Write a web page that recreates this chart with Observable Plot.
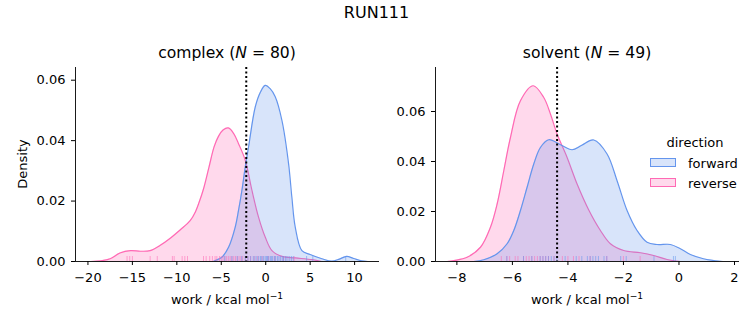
<!DOCTYPE html>
<html><head><meta charset="utf-8">
<script src="https://cdn.jsdelivr.net/npm/d3@7"></script>
<script src="https://cdn.jsdelivr.net/npm/@observablehq/plot@0.6"></script>
<style>
body{margin:0;background:#fff;}
#fig{position:relative;width:753px;height:325px;font-family:"DejaVu Sans",sans-serif;color:#000;overflow:hidden;background:#fff}
.t{position:absolute;white-space:nowrap;transform:translate(-50%,-50%);line-height:1}
.lab{position:absolute;white-space:nowrap;line-height:1;transform:translateY(-50%)}
.patch{position:absolute;width:26px;height:9px;box-sizing:border-box}
sup{font-size:70%;vertical-align:0.55em;line-height:0}
</style></head><body><div id="fig"></div>
<script>
// ---- data ----
const directions = ["forward", "reverse"];
const colors = ["#6495ED", "#FF69B4"];

// complex panel: KDE curves (work, density)
const complexForwardX = [-5.9,-5.68,-4.93,-4.18,-3.43,-3.06,-2.68,-2.3,-1.93,-1.18,-0.6,-0.06,0.5,1.07,1.82,2.57,2.94,3.32,4.07,5.0,6.32,7.45,8.3,9.1,9.9,10.8,11.5];
const complexForwardD = [0,0.0003,0.0014,0.0047,0.0114,0.0169,0.0235,0.0313,0.0379,0.0511,0.0560,0.0583,0.0572,0.0545,0.0467,0.0324,0.0213,0.0114,0.0036,0.0023,0.0009,0.0001,0.0008,0.0017,0.0010,0.0002,0];
const complexReverseX = [-19.7,-18.6,-17.5,-16.4,-15.2,-14.1,-13.0,-11.9,-10.7,-9.6,-8.5,-7.9,-7.5,-7.0,-6.4,-5.8,-5.3,-4.8,-4.2,-3.6,-3.06,-2.3,-1.55,-0.81,-0.06,0.7,1.82,3.32,5.2,6.3];
const complexReverseD = [0,0.0002,0.0009,0.0028,0.0036,0.0034,0.0036,0.0053,0.0078,0.0105,0.0135,0.0165,0.0195,0.024,0.031,0.038,0.0415,0.0435,0.0442,0.0423,0.039,0.0335,0.0235,0.0147,0.0081,0.0036,0.0017,0.0012,0.0006,0];
// complex panel: rug (individual work values)
const complexForwardRug = [-4.6,-3.8,-3.2,-2.7,-2.3,-2.0,-1.7,-1.4,-1.2,-1.0,-0.8,-0.6,-0.5,-0.3,-0.2,0.0,0.1,0.2,0.3,0.5,0.6,0.7,0.8,1.0,1.1,1.3,1.4,1.6,1.7,1.9,2.0,2.2,2.3,2.5,2.7,2.9,3.1,4.6,5.3,9.0];
const complexReverseRug = [-15.6,-15.3,-15.0,-13.0,-12.2,-10.5,-10.3,-9.4,-9.1,-8.8,-7.0,-6.7,-6.3,-6.0,-5.7,-5.5,-5.2,-5.0,-4.8,-4.6,-4.4,-4.2,-4.0,-3.8,-3.6,-3.4,-3.2,-3.0,-2.8,-2.6,-2.3,-2.0,-1.7,-1.3,-0.9,-0.4,0.3,1.0,2.0,3.2];
const complexEstimate = -2.19;

// solvent panel
const solventForwardX = [-7.4,-7.03,-6.55,-6.19,-5.95,-5.71,-5.47,-5.23,-4.99,-4.69,-4.27,-3.85,-3.5,-3.07,-2.59,-2.23,-1.87,-1.51,-1.15,-0.79,-0.31,0.05,0.41,0.88,1.49,1.7];
const solventForwardD = [0,0.0007,0.0031,0.0071,0.0124,0.0204,0.0297,0.039,0.0456,0.0487,0.0467,0.0447,0.0465,0.0486,0.043,0.0323,0.0204,0.0124,0.0077,0.0068,0.0068,0.0051,0.0028,0.0011,0.0001,0];
const solventReverseX = [-8.35,-8.1,-7.63,-7.15,-6.79,-6.55,-6.31,-6.07,-5.71,-5.25,-4.87,-4.63,-4.39,-4.03,-3.67,-3.25,-2.83,-2.47,-1.99,-1.39,-0.91,-0.43,0.05];
const solventReverseD = [0,0.0004,0.0017,0.0057,0.0137,0.023,0.0363,0.0496,0.0643,0.0703,0.0656,0.059,0.051,0.0416,0.031,0.0206,0.0124,0.0071,0.0044,0.0035,0.0024,0.0008,0];
const solventForwardRug = [-6.2,-5.6,-5.3,-5.0,-4.9,-4.8,-4.7,-4.6,-4.5,-4.4,-4.1,-3.7,-3.5,-3.3,-3.2,-3.1,-3.0,-2.9,-2.7,-2.6,-2.1,-1.9,-0.9,-0.2,-0.13];
const solventReverseRug = [-6.4,-6.2,-6.1,-5.9,-5.8,-5.6,-5.5,-5.4,-5.3,-5.2,-5.1,-5.0,-4.9,-4.8,-4.7,-4.5,-4.2,-4.0,-3.8,-3.6,-3.2,-2.6,-2.0,-1.4];
const solventEstimate = -4.39;

const complexXTicks = [-20,-15,-10,-5,0,5,10];
const solventXTicks = [-8,-6,-4,-2,0,2];
const yTicks = [0,0.02,0.04,0.06];

// ---- drawing ----
const fig = document.getElementById("fig");
const H = 285, MT = 27, MB = 64;
const CURVE = "catmull-rom";

function panel(o) {
  const fwd = o.fx.map((x, i) => ({x, d: o.fd[i]}));
  const rev = o.rx.map((x, i) => ({x, d: o.rd[i]}));
  const frameH = H - MT - MB;
  const svg = Plot.plot({
    width: o.width, height: H, marginLeft: o.ml, marginRight: 1, marginTop: MT, marginBottom: MB,
    style: {fontFamily: "DejaVu Sans", fontSize: "13px", color: "#000", background: "transparent", overflow: "visible"},
    x: {domain: o.xDomain},
    y: {domain: o.yDomain},
    marks: [
      Plot.areaY(rev, {x: "x", y: "d", fill: colors[1], fillOpacity: 0.25, curve: CURVE, clip: true}),
      Plot.lineY(rev, {x: "x", y: "d", stroke: colors[1], strokeWidth: 1.2, curve: CURVE, clip: true}),
      Plot.areaY(fwd, {x: "x", y: "d", fill: colors[0], fillOpacity: 0.25, curve: CURVE, clip: true}),
      Plot.lineY(fwd, {x: "x", y: "d", stroke: colors[0], strokeWidth: 1.2, curve: CURVE, clip: true}),
      Plot.tickX(o.rr, {x: d => d, stroke: colors[1], strokeOpacity: 0.55, strokeWidth: 1, insetTop: frameH - 5}),
      Plot.tickX(o.fr, {x: d => d, stroke: colors[0], strokeOpacity: 0.55, strokeWidth: 1, insetTop: frameH - 5}),
      Plot.ruleX([o.est], {stroke: "#000", strokeWidth: 2, strokeDasharray: "2,2.5"}),
      Plot.ruleX([o.xDomain[0]], {stroke: "#000", strokeWidth: 0.9}),
      Plot.ruleY([0], {stroke: "#000", strokeWidth: 0.9}),
      Plot.axisX({ticks: o.xTicks, tickSize: 4, tickPadding: 7.5, label: null}),
      Plot.axisY({ticks: yTicks, tickSize: 4, tickPadding: 6, tickFormat: d3.format(".2f"), label: null})
    ]
  });
  svg.style.position = "absolute";
  svg.style.left = o.left + "px";
  svg.style.top = "40px";
  fig.appendChild(svg);
}

panel({left: 0, width: 380, ml: 75, xDomain: [-21.4, 12.8], yDomain: [0, 0.0642], xTicks: complexXTicks,
  fx: complexForwardX, fd: complexForwardD, rx: complexReverseX, rd: complexReverseD,
  fr: complexForwardRug, rr: complexReverseRug, est: complexEstimate});
panel({left: 380, width: 360, ml: 55, xDomain: [-8.77, 2.18], yDomain: [0, 0.0776], xTicks: solventXTicks,
  fx: solventForwardX, fd: solventForwardD, rx: solventReverseX, rd: solventReverseD,
  fr: solventForwardRug, rr: solventReverseRug, est: solventEstimate});

function addText(html, x, y, cls, style) {
  const d = document.createElement("div");
  d.className = cls;
  d.innerHTML = html;
  d.style.left = x + "px";
  d.style.top = y + "px";
  Object.assign(d.style, style || {});
  fig.appendChild(d);
  return d;
}
addText("RUN111", 376.5, 13, "t", {fontSize: "16px"});
addText("complex (<i>N</i> = 80)", 227, 54, "t", {fontSize: "15.6px"});
addText("solvent (<i>N</i> = 49)", 587, 54, "t", {fontSize: "15.6px"});
addText("work / kcal mol<sup>−1</sup>", 227, 299, "t", {fontSize: "13px"});
addText("work / kcal mol<sup>−1</sup>", 587, 299, "t", {fontSize: "13px"});
addText("Density", 22, 164, "t", {fontSize: "13px", transform: "translate(-50%,-50%) rotate(-90deg)"});

// legend
addText("direction", 695, 142, "t", {fontSize: "13px"});
directions.forEach((name, i) => {
  const y = 157.5 + i * 20.3;
  const p = document.createElement("div");
  p.className = "patch";
  p.style.left = "649.5px";
  p.style.top = y + "px";
  p.style.border = "1.2px solid " + colors[i];
  const c = d3.color(colors[i]); c.opacity = 0.25;
  p.style.background = c.formatRgb();
  fig.appendChild(p);
  addText(name, 688, y + 5, "lab", {fontSize: "13px"});
});
</script></body></html>
